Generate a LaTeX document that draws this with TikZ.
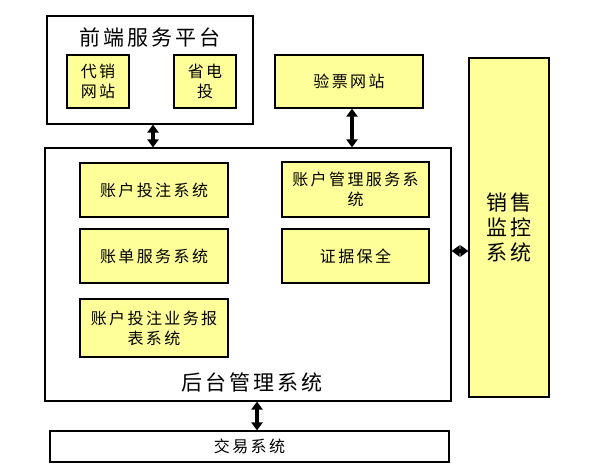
\documentclass[tikz,border=0pt]{standalone}
\usepackage{fontspec}
\newfontfamily\cjk[LetterSpace=15]{Noto Sans CJK SC}
\usetikzlibrary{arrows.meta}
\definecolor{boxyellow}{RGB}{255,255,153}
\begin{document}
\begin{tikzpicture}[x=1pt,y=1pt]
    \tikzstyle{every node}+=[inner sep=0pt, align=center]
    \tikzstyle{frame}=[draw=black, line width=1.1pt, fill=white]
    \tikzstyle{sub}=[draw=black, line width=1.1pt, fill=boxyellow, font=\cjk\fontsize{16}{20}\selectfont]
    \tikzstyle{big}=[font=\cjk\fontsize{21}{25}\selectfont]
    \tikzstyle{dblarrow}=[line width=3.6pt, {Triangle[width=11pt,length=8pt]}-{Triangle[width=11pt,length=8pt]}]
    \useasboundingbox (0,0) rectangle (597,-476);
    \node [frame, minimum width=206, minimum height=108] (front) at (150,-70) {};
    \node [big] (fronttitle) at (150,-37) {前端服务平台};
    \node [sub, minimum width=62, minimum height=53] (daixiao) at (98,-81.5) {代销\\网站};
    \node [sub, minimum width=62, minimum height=53] (shengdt) at (205,-81.5) {省电\\投};
    \node [sub, minimum width=148, minimum height=53] (yanpiao) at (349,-81.5) {验票网站};
    \node [sub, big, minimum width=80, minimum height=339] (monitor) at (509,-227.5) {销售\\监控\\系统};
    \node [frame, minimum width=406, minimum height=253] (back) at (248,-274.5) {};
    \node [sub, minimum width=148, minimum height=54] (touzhu) at (154,-190) {账户投注系统};
    \node [sub, minimum width=148, minimum height=54] (zhangdan) at (154,-256) {账单服务系统};
    \node [sub, minimum width=148, minimum height=58] (baobiao) at (154,-328) {账户投注业务报\\表系统};
    \node [sub, minimum width=147, minimum height=55] (guanli) at (355.5,-189.5) {账户管理服务系\\统};
    \node [sub, minimum width=147, minimum height=54] (zhengju) at (355.5,-256) {证据保全};
    \node [big] (backtitle) at (252,-382) {后台管理系统};
    \node [frame, font=\cjk\fontsize{16}{20}\selectfont, minimum width=399, minimum height=31] (jiaoyi) at (249.5,-446.5) {交易系统};
    \draw [dblarrow] ([xshift=3pt]front.south) -- ([xshift=3pt]front.south |- back.north);
    \draw [dblarrow] ([xshift=3pt]yanpiao.south) -- ([xshift=3pt]yanpiao.south |- back.north);
    \draw [dblarrow] ([yshift=23.5pt]back.east) -- ([yshift=23.5pt]back.east -| monitor.west);
    \draw [dblarrow] ([xshift=9pt]back.south) -- ([xshift=9pt]back.south |- jiaoyi.north);
\end{tikzpicture}
\end{document}
